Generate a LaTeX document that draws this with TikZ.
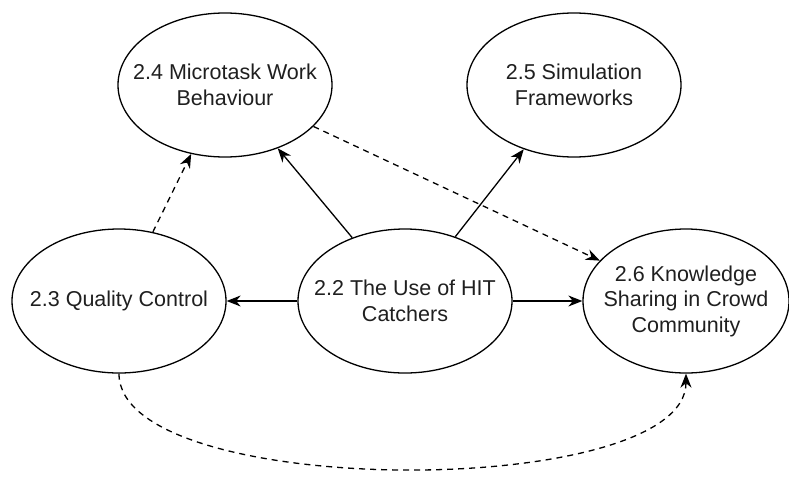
\documentclass[tikz,border=0pt]{standalone}
\usepackage{fontspec}
\setmainfont{Liberation Sans}
\usetikzlibrary{shapes.geometric,arrows.meta}
\begin{document}
\begin{tikzpicture}[x=1pt,y=-1pt,
  topic/.style={ellipse, draw=black, line width=1.3pt, inner sep=0pt,
    minimum width=214pt, minimum height=144pt,
    label={[topictext]center:#1}},
  topictext/.style={align=center, inner sep=0pt,
    font=\fontsize{21.5}{25.5}\selectfont, text=black!88},
  link/.style={line width=1.3pt, -{Stealth[length=14pt,width=11pt,inset=4.5pt]}},
  dashlink/.style={link, dash pattern=on 6pt off 5pt}
]
\useasboundingbox (0,0) rectangle (789,480);

% topics
\node[topic={2.4 Microtask Work\\Behaviour}] (t24) at (225,85) {};
\node[topic={2.5 Simulation\\Frameworks}] (t25) at (574,85) {};
\node[topic={2.3 Quality Control}] (t23) at (119,301) {};
\node[topic={2.2 The Use of HIT\\Catchers}] (t22) at (405,301) {};
\node[topic={2.6 Knowledge\\Sharing in Crowd\\Community}, minimum width=206pt] (t26) at (686,301) {};

% direct links from 2.2
\draw[link] (t22) -- (t23);
\draw[link] (t22) -- (t26);
\draw[link] (t22) -- (t24);
\draw[link] (t22) -- (t25);

% dashed links
\draw[dashlink] (t23) -- (t24);
\draw[dashlink] (t24) -- (t26);
\draw[dashlink] (t23.south) .. controls +(0,127) and +(0,127) .. (t26.south);
\end{tikzpicture}
\end{document}
